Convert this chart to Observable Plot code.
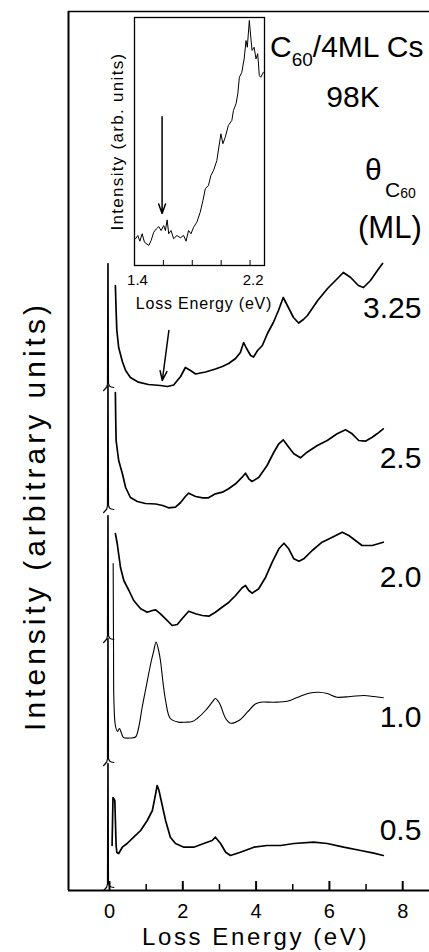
<!DOCTYPE html>
<html><head><meta charset="utf-8">
<script src="https://cdn.jsdelivr.net/npm/d3@7"></script>
<script src="https://cdn.jsdelivr.net/npm/@observablehq/plot@0.6"></script>
<style>
html,body{margin:0;padding:0;background:#fff;}
#wrap{position:relative;width:429px;height:952px;overflow:hidden;}
#wrap svg{position:absolute;left:0;top:0;}
</style></head><body><div id="wrap"></div>
<script>
const FONT = "'Liberation Sans', Arial, Helvetica, sans-serif";

// coverage labels, vertical offsets of each spectrum, label lift above offset
const coverages = ["3.25", "2.5", "2.0", "1.0", "0.5"];
const offsets = [502, 380, 250, 127, 2];
const labelLift = [80, 52, 63, 46, 58];

// elastic peak shape (shared, clipped)
const elasticE = [-0.16, -0.11, -0.075, -0.055, -0.048, -0.036, -0.028, 0.0, 0.05, 0.12];
const elasticI = [-2, 0, 1.5, 5, 125, 125, 5, 2.5, 1.5, 1];

// loss spectra
const E325 = [0.16,0.18,0.20,0.25,0.35,0.44,0.57,0.79,1.06,1.39,1.58,1.75,1.94,2.07,2.21,2.35,2.48,2.62,2.89,3.08,3.25,3.44,3.57,3.66,3.74,3.85,3.93,4.04,4.17,4.31,4.47,4.61,4.74,4.88,5.02,5.16,5.29,5.40,5.68,5.95,6.22,6.38,6.58,6.79,6.93,7.12,7.31,7.45];
const I325 = [103,78,58,41,27,18,11,6.3,4,3,2,3.5,12,21,18,14.5,15.5,16.5,19.5,22,25,30,36,46,40,33,31.5,38,43,55,66,78,91,81,71,65.5,69,73,88,100,110,116,111,103,101,108,118,125];

const E25 = [0.16,0.17,0.18,0.25,0.35,0.44,0.57,0.76,0.98,1.26,1.45,1.61,1.80,1.94,2.07,2.16,2.35,2.54,2.70,2.89,3.08,3.25,3.44,3.62,3.71,3.80,3.89,4.07,4.30,4.48,4.62,4.74,4.89,5.03,5.21,5.39,5.67,5.94,6.21,6.44,6.62,6.80,6.98,7.17,7.30,7.47];
const I25 = [118,90,70,50,37,23,13,9,7,6.5,5,2.7,3.3,8,14,17.3,14,12.7,12.7,16.7,18.3,21.7,26.7,33.3,37.3,31.7,29,33,45,58,66.7,70.7,63.3,56.7,52.7,58.3,65,70,76.7,80.7,76.7,70,69.3,73.3,76.7,81.7];

const E20 = [0.16,0.21,0.30,0.39,0.53,0.66,0.85,1.03,1.17,1.26,1.39,1.53,1.71,1.85,1.98,2.16,2.35,2.53,2.71,2.89,3.07,3.26,3.44,3.62,3.71,3.80,3.89,4.07,4.26,4.44,4.62,4.76,4.89,5.03,5.17,5.30,5.53,5.80,6.08,6.35,6.53,6.71,6.89,7.17,7.47];
const I20 = [107,97,73,60,50,40,31.7,28.3,30,30.7,26.7,21.7,15,16,21.7,29.3,26.7,25,24.3,28.3,33.3,38.3,45,52.7,55,50,47.3,51.7,63.3,78.3,91.7,97.3,91.7,81.7,79.3,81.7,90,98.3,103.3,108.3,105,100,95,95,98.3];

const E10 = [0.10,0.11,0.12,0.16,0.22,0.27,0.33,0.38,0.57,0.71,0.79,0.89,0.98,1.07,1.15,1.21,1.27,1.34,1.39,1.46,1.53,1.66,1.89,2.07,2.26,2.39,2.62,2.80,2.89,2.97,3.03,3.17,3.30,3.53,3.76,3.98,4.12,4.48,4.85,5.12,5.44,5.71,5.94,6.21,6.58,6.94,7.21,7.47];
const I10 = [200,113,63,38,32,35,30,26,25.5,26.5,35,56,73,90,104,113,121.5,113,103,81,63,45,41.3,41.3,42,45,53,61.3,65,62,58,45,40.3,43,51.3,59.5,61.3,61.3,62.3,66,70.3,71.3,70,66.3,67,68,67,65.7];

const E05 = [0.07,0.095,0.145,0.18,0.20,0.25,0.35,0.48,0.66,0.85,1.03,1.17,1.26,1.30,1.35,1.39,1.53,1.66,1.80,2.03,2.30,2.57,2.80,2.89,3.03,3.17,3.30,3.57,3.94,4.30,4.67,5.03,5.57,5.94,6.39,6.85,7.21,7.47];
const I05 = [43,91,88,43,36,35,41.3,45,51.3,58,68,78,95,103,98,91.3,68,51.3,45,41.3,41.3,45,48,51.3,45,36.3,33,36.3,41.3,43,43,45,46.3,45,41.3,38,35.3,33];

// inset spectrum (1.4 - 2.3 eV)
const insetE = [1.407,1.423,1.437,1.453,1.469,1.499,1.515,1.533,1.552,1.568,1.584,1.602,1.614,1.626,1.637,1.653,1.671,1.694,1.717,1.740,1.757,1.774,1.791,1.809,1.832,1.855,1.874,1.890,1.912,1.929,1.947,1.970,1.998,2.012,2.028,2.050,2.074,2.085,2.103,2.115,2.126,2.143,2.159,2.172,2.181,2.195,2.205,2.214,2.228,2.241,2.253,2.264,2.274,2.292];
const insetI = [10.8,12.1,9.8,12.8,9.4,8.1,10.1,13.4,14.8,15.7,14.1,16.1,14.1,18.4,12.8,14.1,10.8,12.1,11.2,12.1,9.8,14.1,12.8,15.4,17.5,21.5,26.2,30.9,32.3,36.3,38.3,42.3,53.1,49.1,51.7,56.5,58.5,62.5,65.2,69.2,75.9,77.9,83.3,90.7,88.0,98.8,92.1,86.7,88.0,83.3,85.4,76.6,75.9,77.9];

// axes ticks
const majorTicks = [0, 2, 4, 6, 8];
const minorTicks = [1, 3, 5, 7];
const insetTicks = [1.6, 1.8, 2.0, 2.2];
const insetTickLabels = [1.4, 2.2];

// arrows (data coordinates)
const mainArrow = [{x1: 1.62, y1: 560, x2: 1.44, y2: 510}];
const insetArrow = [{x1: 1.591, y1: 60, x2: 1.591, y2: 21}];

// ---- build tables ----
const lossE = [E325, E25, E20, E10, E05];
const lossI = [I325, I25, I20, I10, I05];
const lossRows = [], elasticRows = [];
coverages.forEach((c, k) => {
  lossE[k].forEach((e, i) => lossRows.push({s: c, E: e, I: offsets[k] + lossI[k][i]}));
  elasticE.forEach((e, i) => elasticRows.push({s: c, E: e, I: offsets[k] + elasticI[i]}));
});
const insetRows = insetE.map((e, i) => ({E: e, I: insetI[i]}));

const main = Plot.plot({
  width: 429, height: 952,
  marginLeft: 68, marginRight: 0, marginTop: 11, marginBottom: 62,
  x: {domain: [-1.119, 8.731], axis: null},
  y: {domain: [0, 879], axis: null},
  style: {background: "white", fontFamily: FONT, overflow: "visible", color: "black"},
  marks: [
    Plot.line(elasticRows, {x: "E", y: "I", z: "s", stroke: "black", strokeWidth: 1.2}),
    Plot.line(lossRows.filter(d => d.s !== "1.0"), {x: "E", y: "I", z: "s", stroke: "black", strokeWidth: 1.7}),
    Plot.line(lossRows.filter(d => d.s === "1.0"), {x: "E", y: "I", stroke: "black", strokeWidth: 1.1, curve: "catmull-rom"}),
    Plot.ruleX([-1.119], {stroke: "black", strokeWidth: 2}),
    Plot.ruleY([0], {stroke: "black", strokeWidth: 2}),
    Plot.ruleY([879], {stroke: "black", strokeWidth: 1.5}),
    Plot.ruleX(majorTicks, {y1: 0, y2: 9, stroke: "black", strokeWidth: 2}),
    Plot.ruleX(minorTicks, {y1: 0, y2: 6, stroke: "black", strokeWidth: 1.5}),
    Plot.text(majorTicks, {x: d => d, y: 0, dy: 21, text: d => String(d), fontSize: 20, lineAnchor: "middle", fill: "black"}),
    Plot.text(["Loss Energy (eV)"], {frameAnchor: "bottom", dx: 6.5, dy: 47, fontSize: 24, lineAnchor: "middle", textAnchor: "middle", fill: "black"}),
    Plot.text(["Intensity (arbitrary units)"], {frameAnchor: "left", rotate: -90, dx: -33, dy: 65, fontSize: 30, lineAnchor: "middle", textAnchor: "middle", fill: "black"}),
    Plot.text(coverages, {x: 8.51, y: (d, i) => offsets[i] + labelLift[i], text: d => d, textAnchor: "end", fontSize: 30, fill: "black"}),
    Plot.arrow(mainArrow, {x1: "x1", y1: "y1", x2: "x2", y2: "y2", stroke: "black", strokeWidth: 1.5, headLength: 10, headAngle: 40})
  ]
});

const inset = Plot.plot({
  width: 429, height: 320,
  marginLeft: 134, marginRight: 165, marginTop: 17, marginBottom: 55,
  x: {domain: [1.4, 2.3], axis: null},
  y: {domain: [0, 100], axis: null},
  style: {background: "none", fontFamily: FONT, overflow: "visible", color: "black"},
  marks: [
    Plot.frame({stroke: "black", strokeWidth: 1.3}),
    Plot.line(insetRows, {x: "E", y: "I", stroke: "black", strokeWidth: 1}),
    Plot.ruleX(insetTicks, {y1: 0, y2: 2, stroke: "black", strokeWidth: 1}),
    Plot.text(insetTickLabels, {x: d => d, y: 0, dx: 3, dy: 15, text: d => d.toFixed(1), fontSize: 15, lineAnchor: "middle", fill: "black"}),
    Plot.text(["Loss Energy (eV)"], {frameAnchor: "bottom", dx: 4.5, dy: 38, fontSize: 16, lineAnchor: "middle", textAnchor: "middle", fill: "black"}),
    Plot.text(["Intensity (arb. units)"], {frameAnchor: "left", rotate: -90, dx: -17, fontSize: 17, lineAnchor: "middle", textAnchor: "middle", fill: "black"}),
    Plot.arrow(insetArrow, {x1: "x1", y1: "y1", x2: "x2", y2: "y2", stroke: "black", strokeWidth: 1.5, headLength: 10, headAngle: 40})
  ]
});

const wrap = document.getElementById("wrap");
wrap.appendChild(main);
wrap.appendChild(inset);
inset.style.pointerEvents = "none";

// letter spacing for wide axis titles
d3.select(main).selectAll("text").filter(function () { return this.textContent === "Loss Energy (eV)"; }).style("letter-spacing", "2.6px");
d3.select(main).selectAll("text").filter(function () { return this.textContent === "Intensity (arbitrary units)"; }).style("letter-spacing", "4px");
d3.select(inset).selectAll("text").filter(function () { return this.textContent === "Loss Energy (eV)"; }).style("letter-spacing", "0.8px");
d3.select(inset).selectAll("text").filter(function () { return this.textContent === "Intensity (arb. units)"; }).style("letter-spacing", "1.3px");

// header annotations with subscripts
const g = d3.select(main).append("g").attr("font-family", FONT).attr("fill", "black").attr("text-anchor", "start");
const t1 = g.append("text").attr("x", 270).attr("y", 57).attr("font-size", 30);
t1.append("tspan").text("C");
t1.append("tspan").attr("font-size", 19).attr("dy", 9).text("60");
t1.append("tspan").attr("dy", -9).text("/4ML Cs");
g.append("text").attr("x", 353).attr("y", 107).attr("text-anchor", "middle").attr("font-size", 30).text("98K");
const t2 = g.append("text").attr("x", 365).attr("y", 180).attr("font-size", 30);
t2.append("tspan").text("θ");
t2.append("tspan").attr("x", 385).attr("y", 197).attr("font-size", 21).text("C");
t2.append("tspan").attr("y", 198).attr("font-size", 14).text("60");
g.append("text").attr("x", 358).attr("y", 238).attr("font-size", 31).text("(ML)");
</script></body></html>
